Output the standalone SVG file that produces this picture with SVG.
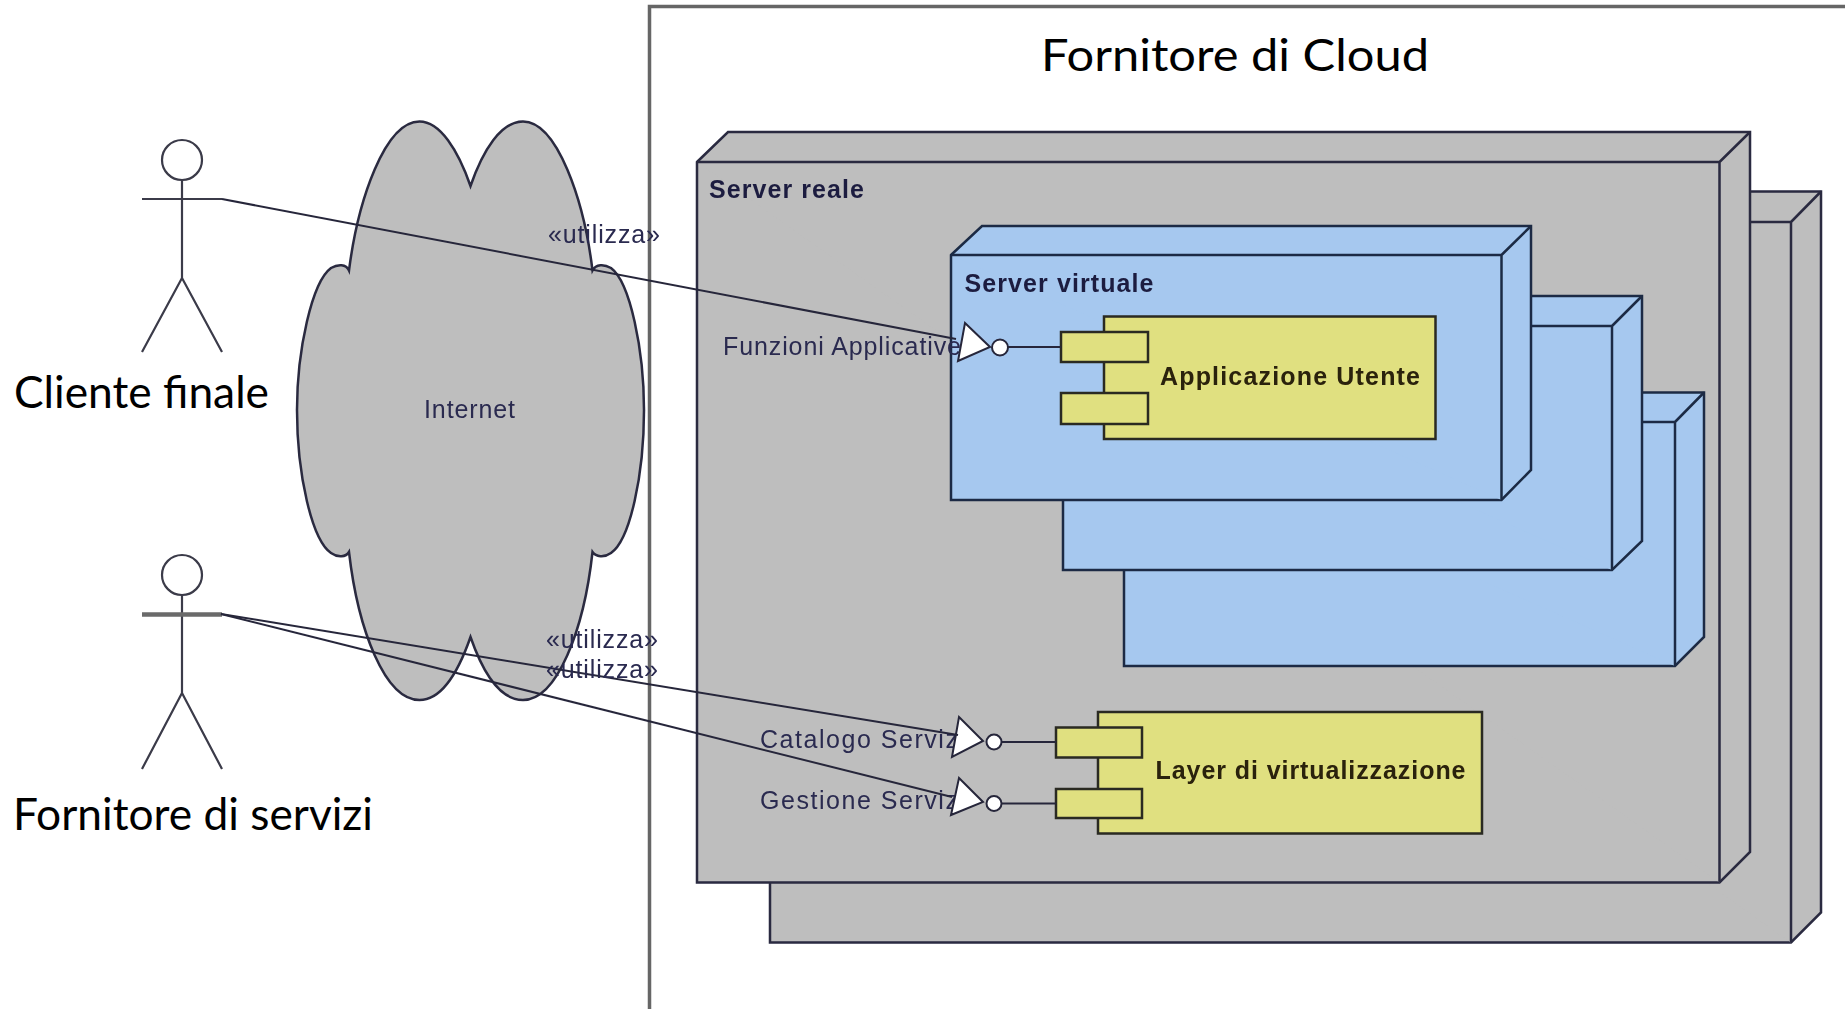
<svg xmlns="http://www.w3.org/2000/svg" width="1845" height="1009" viewBox="0 0 1845 1009">
<defs><filter id="soft" x="-2%" y="-2%" width="104%" height="104%"><feGaussianBlur stdDeviation="0.6"/></filter></defs>
<style>
.gray{fill:#bebebe;stroke:#2a2a40;stroke-width:2.5}
.blue{fill:#a6c8ef;stroke:#1c2c44;stroke-width:2.5}
.yel{fill:#e0e080;stroke:#2a2a20;stroke-width:2.5}
.ln{fill:none;stroke:#26263a;stroke-width:2}
.act{fill:none;stroke:#3a3a48;stroke-width:2.2}
.wh{fill:#fff;stroke:#26263a;stroke-width:2}
.lab{font-family:Lato,"Open Sans",sans-serif;font-size:44px;fill:#000}
.t{font-family:"Liberation Sans",Arial,sans-serif;font-size:25px;fill:#2a2a50}
.b{font-family:"Liberation Sans",Arial,sans-serif;font-size:25px;font-weight:bold;fill:#1e1e40}
.y{fill:#2a2008}
</style>
<g id="fornitore-cloud">
<path d="M649.500 1009V6.500H1845" fill="none" stroke="#666" stroke-width="3.500"/>
<text class="lab" x="1041" y="71" textLength="388" lengthAdjust="spacingAndGlyphs">Fornitore di Cloud</text>
</g>
<g filter="url(#soft)">
<g id="server-reale-2">
<path class="gray" d="M770 222L800 191.500H1821V912.500L1791 942.500H770Z"/>
<path class="gray" fill="none" d="M770 222H1791V942.500M1791 222L1821 191.500"/>
</g>
<g id="server-reale">
<path class="gray" d="M697 162L728 132H1750V852L1719.500 882.500H697Z"/>
<path class="gray" d="M697 162H1719.500V882.500M1719.500 162L1750 132"/>
<text class="b" x="709" y="198" textLength="155">Server reale</text>
</g>
<g id="server-virtuale-3">
<path class="blue" d="M1124 422L1154 392.500H1704V637L1675 666H1124Z"/>
<path class="blue" d="M1124 422H1675V666M1675 422L1704 392.500"/>
</g>
<g id="server-virtuale-2">
<path class="blue" d="M1063 326L1093 296H1642V541L1612 570H1063Z"/>
<path class="blue" d="M1063 326H1612V570M1612 326L1642 296"/>
</g>
<g id="server-virtuale">
<path class="blue" d="M951 255L982 226H1531V470L1501.500 500H951Z"/>
<path class="blue" d="M951 255H1501.500V500M1501.500 255L1531 226"/>
<text class="b" x="964.500" y="292" textLength="189">Server virtuale</text>
</g>
<g id="applicazione-utente">
<rect class="yel" x="1104" y="316.500" width="331.500" height="122.500"/>
<rect class="yel" x="1061" y="332" width="87" height="30"/>
<rect class="yel" x="1061" y="393" width="87" height="31"/>
<text class="b y" x="1160" y="385" textLength="260">Applicazione Utente</text>
</g>
<g id="layer-virtualizzazione">
<rect class="yel" x="1098" y="712" width="384" height="121.500"/>
<rect class="yel" x="1056" y="727.500" width="86" height="30"/>
<rect class="yel" x="1056" y="789" width="86" height="29"/>
<text class="b y" x="1155.500" y="779" textLength="310">Layer di virtualizzazione</text>
</g>
<g id="internet">
<path class="gray" stroke-width="2" d="M470.500 186C458 150 440 121.500 419.500 121.500C385 121.500 358 200 349 270.500C346 264 338 264 331 268C312 282 297 350 297 410C297 475 312 540 331 553C338 558 346 557 349 552C358 630 385 700 419.500 700C442 700 459 670 470.500 637C482 670 499 700 523 700C557 700 584 630 592.500 552C596 557 604 558 611 553C630 540 644 475 644 410C644 350 630 282 611 268C604 264 596 264 592.500 270.500C584 200 557 121.500 523 121.500C501 121.500 483 150 470.500 186Z"/>
<text class="t" x="424" y="418" textLength="91">Internet</text>
</g>
<g id="cliente-finale">
<circle class="act" cx="182" cy="160" r="20"/>
<path class="act" d="M182 180V278M142 199H222M182 278L142 352M182 278L222 352"/>
</g>
<g id="fornitore-servizi">
<circle class="act" cx="182" cy="575" r="20"/>
<path class="act" d="M182 595V693M182 693L142 769M182 693L222 769"/>
<path d="M142 614.500H222" stroke="#6a6a6a" stroke-width="4.500" fill="none"/>
</g>
<g id="if-funzioni">
<text class="t" x="723" y="355" textLength="238">Funzioni Applicative</text>
<path class="ln" d="M1008 347H1061"/>
<path class="wh" d="M965 323L990 347L958 361Z"/>
<circle class="wh" cx="1000" cy="347.500" r="8"/>
</g>
<g id="if-catalogo">
<text class="t" x="760" y="748" textLength="205">Catalogo Servizi</text>
<path class="ln" d="M1002 742H1056" stroke="#555"/>
<path class="wh" d="M959 717L983 741L952 757Z"/>
<circle class="wh" cx="994" cy="742" r="7.500"/>
</g>
<g id="if-gestione">
<text class="t" x="760" y="809" textLength="205">Gestione Servizi</text>
<path class="ln" d="M1002 803.500H1056" stroke="#555"/>
<path class="wh" d="M959 778L983 802L951 815Z"/>
<circle class="wh" cx="994" cy="803.500" r="7.500"/>
</g>
<g id="connectors">
<path class="ln" d="M222 199L956 339"/>
<path class="ln" d="M221 614L958 735"/>
<path class="ln" d="M221 614L952 797"/>
<text class="t" x="548" y="243" textLength="112">«utilizza»</text>
<text class="t" x="546" y="648" textLength="112">«utilizza»</text>
<text class="t" x="546" y="678" textLength="112">«utilizza»</text>
</g>
</g>
<text class="lab" x="14" y="408" textLength="255" lengthAdjust="spacingAndGlyphs">Cliente finale</text>
<text class="lab" x="13" y="830" textLength="360" lengthAdjust="spacingAndGlyphs">Fornitore di servizi</text>
</svg>
